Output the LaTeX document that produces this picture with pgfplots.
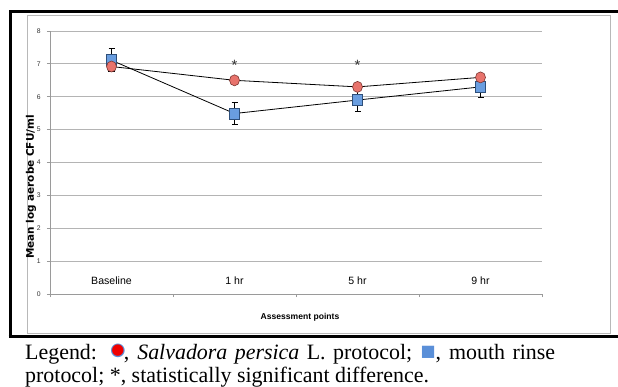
\documentclass[border=0pt]{standalone}
\usepackage{pgfplots}
\pgfplotsset{compat=1.18}
\usepackage{fontspec}
\setmainfont{Liberation Serif}
\newfontfamily\arial{Liberation Sans}
\newfontfamily\dejavu{DejaVu Sans}
\definecolor{redfill}{HTML}{E8736C}
\definecolor{redline}{HTML}{7A3530}
\definecolor{bluefill}{HTML}{6A9EE0}
\definecolor{blueline}{HTML}{2E4F7A}
\definecolor{gridgray}{HTML}{B4B4B4}
\definecolor{axgray}{HTML}{9A9A9A}
\definecolor{symred}{HTML}{F00000}
\definecolor{symblue}{HTML}{5A8FD8}
\newcommand\redsym{\raisebox{4bp}{\makebox[12bp]{\makebox[0pt]{\dejavu\fontsize{18}{18}\selectfont\color{symblue}●}\makebox[0pt]{\raisebox{0.9bp}{\dejavu\fontsize{15}{15}\selectfont\color{symred}●}}}}}
\newcommand\bluesym{\raisebox{3bp}{{\dejavu\fontsize{16}{16}\selectfont\color{symblue}■}}}
\newcommand\astmark{{\arial\fontsize{15}{15}\selectfont\textcolor{gray!40!black}{*}}}
\begin{document}
\begin{tikzpicture}
\useasboundingbox (0,0) rectangle (618bp,-387bp);
\fill[white] (0,0) rectangle (618bp,-387bp);
\draw[axgray!70, line width=0.9bp] (27bp,-15bp) rectangle (610bp,-333bp);
\draw[black, line width=3bp] (10bp,-336bp) -- (10bp,-11bp) -- (618bp,-11bp);
\draw[black, line width=3bp] (8.5bp,-336bp) -- (618bp,-336bp);
\begin{axis}[
  at={(50bp,-294bp)}, anchor=south west,
  scale only axis, width=492bp, height=263bp,
  xmin=-0.5, xmax=3.5, ymin=0, ymax=8,
  axis x line*=bottom, axis y line*=left,
  ytick={0,1,...,8}, ymajorgrids,
  grid style={gridgray, line width=0.9bp},
  axis line style={axgray, line width=0.9bp},
  tick align=outside, major tick length=3bp,
  tick style={axgray, line width=0.8bp},
  xtick={-0.5,0.5,1.5,2.5,3.5}, xticklabels={{},{},{},{},{}},
  extra x ticks={0,1,2,3}, extra x tick labels={Baseline,1 hr,5 hr,9 hr},
  extra x tick style={major tick length=0pt, xticklabel style={anchor=base, yshift=9.3bp}},
  xticklabel style={font=\arial\fontsize{10.6}{12}\selectfont, text=black},
  yticklabel style={font=\arial\fontsize{6.8}{7}\selectfont, text=gray!40!black, anchor=east, xshift=-2.8bp},
  /pgf/number format/assume math mode=true,
  clip=false,
]
\addplot[black, line width=0.8bp, mark=square*, mark size=5bp,
  mark options={fill=bluefill, draw=blueline, line width=0.6bp, yscale=1.1},
  error bars/.cd, y dir=both, y explicit,
  error bar style={black, line width=0.7bp},
  error mark options={rotate=90, mark size=3bp, black, line width=0.7bp}]
  coordinates {(0,7.11) +- (0,0.35) (1,5.49) +- (0,0.34) (2,5.90) +- (0,0.33) (3,6.30) +- (0,0.33)};
\addplot[black, line width=0.8bp, mark=*, mark size=5bp,
  mark options={fill=redfill, draw=redline, line width=0.6bp, yscale=1.1}]
  coordinates {(0,6.92) (1,6.50) (2,6.30) (3,6.59)};
\addplot[only marks, mark=text, text mark={\astmark}]
  coordinates {(1,6.97) (2,6.97)};
\end{axis}
\node[rotate=90, font=\dejavu\bfseries\fontsize{10.5}{12}\selectfont] at (31bp,-187bp) {Mean log aerobe CFU/ml};
\node[font=\arial\bfseries\fontsize{8.6}{10}\selectfont] at (300bp,-317bp) {Assessment points};
\node[anchor=base west, inner sep=0pt, font=\fontsize{22}{24}\selectfont] at (25bp,-359bp)
  {\makebox[530bp][s]{Legend:\ \ \redsym, \textit{Salvadora persica} L. protocol; \bluesym, mouth rinse}};
\node[anchor=base west, inner sep=0pt, font=\fontsize{22}{24}\selectfont] at (25bp,-382bp)
  {protocol; *, statistically significant difference.};
\end{tikzpicture}
\end{document}
